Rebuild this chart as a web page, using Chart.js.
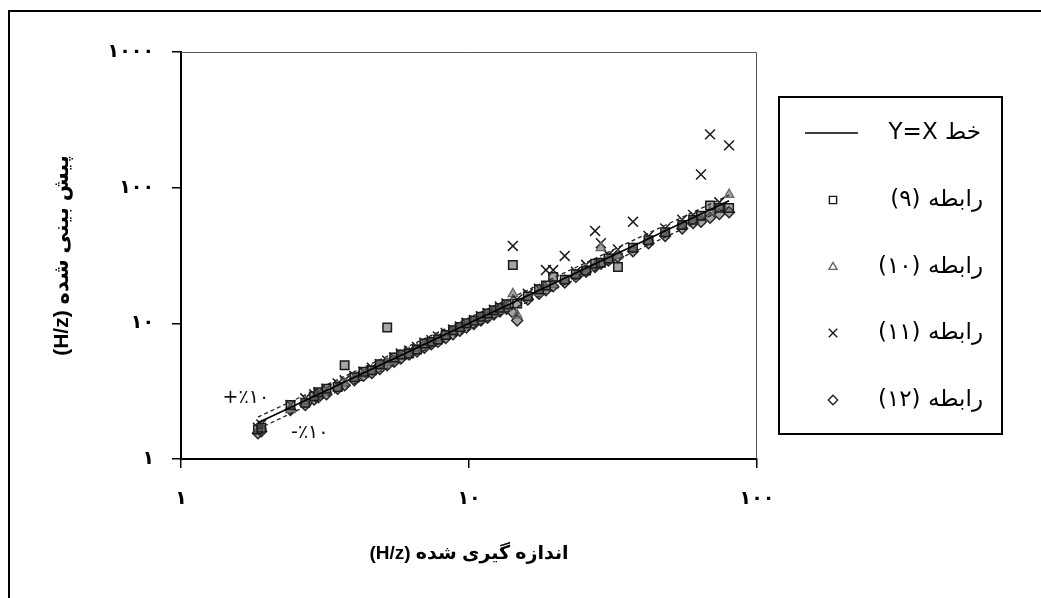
<!DOCTYPE html>
<html><head><meta charset="utf-8">
<script src="https://cdn.jsdelivr.net/npm/chart.js@4.4.0/dist/chart.umd.min.js"></script>
<style>
html,body{margin:0;padding:0;background:#fff;}
#wrap{position:relative;width:1041px;height:598px;}
canvas{direction:rtl;}
</style>
</head><body><div id="wrap"><canvas id="c" width="1041" height="598"></canvas></div>
<script>
// ---- data (measured vs predicted, H/z) ----
const measured = [1.85,1.9,2.4,2.7,2.9,3.0,3.2,3.5,3.7,4.0,4.3,4.6,4.9,5.2,5.5,5.8,6.2,6.6,7.0,7.4,7.8,8.3,8.8,9.3,9.8,10.4,11.0,11.6,12.2,12.8,13.5,14.2,14.7,16.0,17.5,18.5,19.6,21.5,23.5,25.5,27.4,28.7,30.5,32.9,37.1,42,48,55,60,63.9,68.7,74,80];
const rel9  = [1.65,1.7,2.5,2.6,2.9,3.1,3.3,3.4,4.9,4.0,4.4,4.5,5.0,9.3,5.6,5.9,6.0,6.4,7.1,7.3,7.6,8.2,8.9,9.4,10.0,10.5,11.2,11.8,12.5,13.0,13.8,26.9,14.0,15.8,17.8,19.0,22.0,21.0,23.0,24.5,27.5,28.0,30.0,26.0,36.0,41.0,47.0,53.0,58.0,62.0,74.0,71.0,70.7];
const rel10 = [1.6,1.75,2.3,2.65,2.8,2.95,3.1,3.45,3.6,3.9,4.2,4.5,4.8,5.1,5.3,5.7,6.1,6.5,6.8,7.2,7.7,8.1,8.6,9.1,9.6,10.2,10.8,11.3,12.0,12.5,13.2,16.5,11.5,15.5,17.0,18.2,19.2,20.8,22.8,25.0,26.5,36.0,29.5,31.5,35.5,40.0,46.0,52.0,57.0,60.0,66.0,70.0,89.0];
const rel11 = [1.7,1.8,2.5,2.8,3.0,3.1,3.3,3.6,3.8,4.1,4.4,4.7,5.0,5.3,5.6,6.0,6.3,6.7,7.2,7.5,8.0,8.5,9.0,9.5,10.1,10.6,11.3,11.9,12.6,13.3,14.0,37.2,15.0,16.5,18.0,24.7,24.7,31.4,24.0,27.0,48.0,39.0,32.0,35.0,56.0,44.0,50.0,58.0,63.0,125.0,247.0,78.0,205.0];
const rel12 = [1.55,1.6,2.3,2.5,2.75,2.85,3.0,3.3,3.5,3.8,4.1,4.3,4.6,4.9,5.2,5.5,5.9,6.2,6.6,7.0,7.3,7.8,8.3,8.8,9.3,9.9,10.5,11.0,11.6,12.2,12.8,12.0,10.5,15.0,16.5,17.5,18.8,20.0,22.0,24.0,26.0,27.5,29.0,31.0,34.0,39.0,44.0,50.0,55.0,56.0,60.0,64.0,66.0];
const lineX  = [1.85, 80];
const lineY  = [1.85, 80];
const upperY = [2.035, 88];
const lowerY = [1.665, 72];
const xTickValues = [1, 10, 100];
const xTickLabels = ['۱', '۱۰', '۱۰۰'];
const yTickValues = [1, 10, 100, 1000];
const yTickLabels = ['۱', '۱۰', '۱۰۰', '۱۰۰۰'];
const seriesLabels = ['خط Y=X', 'رابطه (۹)', 'رابطه (۱۰)', 'رابطه (۱۱)', 'رابطه (۱۲)'];
const xTitle = 'اندازه گیری شده (H/z)';
const yTitle = 'پیش بینی شده (H/z)';
const bandLabels = ['+٪۱۰', '-٪۱۰'];
const bandLabelX = [1.68, 2.8];
const bandLabelY = [2.83, 1.56];

const pts = (ys) => measured.map((x, i) => ({x: x, y: ys[i]}));
const linePts = (ys) => lineX.map((x, i) => ({x: x, y: ys[i]}));

const markerFill = 'rgba(90,90,90,0.55)';
const datasets = [
  {label: seriesLabels[0], data: linePts(lineY), showLine: true, borderColor: '#000', borderWidth: 1.6, pointRadius: 0, order: 0},
  {label: '+10', data: linePts(upperY), showLine: true, borderColor: '#222', borderWidth: 1.3, borderDash: [4, 3], pointRadius: 0, order: 0},
  {label: '-10', data: linePts(lowerY), showLine: true, borderColor: '#222', borderWidth: 1.3, borderDash: [4, 3], pointRadius: 0, order: 0},
  {label: seriesLabels[1], data: pts(rel9), pointStyle: 'rect', pointRadius: 6, borderColor: '#1a1a1a', backgroundColor: markerFill, borderWidth: 1.5, order: 1},
  {label: seriesLabels[2], data: pts(rel10), pointStyle: 'triangle', pointRadius: 5.5, borderColor: '#666', backgroundColor: markerFill, borderWidth: 1.3, order: 1},
  {label: seriesLabels[3], data: pts(rel11), pointStyle: 'crossRot', pointRadius: 7, borderColor: '#1a1a1a', borderWidth: 1.5, order: 1},
  {label: seriesLabels[4], data: pts(rel12), pointStyle: 'rectRot', pointRadius: 5.5, borderColor: '#222', backgroundColor: markerFill, borderWidth: 1.4, order: 1}
];

const tickFont = {family: "'DejaVu Sans'", size: 19, weight: 'bold'};
const xTitleFont = {family: "'Liberation Sans', 'DejaVu Sans'", size: 19, weight: 'bold'};
const yTitleFont = {family: "'Liberation Sans', 'DejaVu Sans'", size: 21, weight: 'bold'};

function drawMarker(ctx, style, r, x, y, color) {
  ctx.save();
  ctx.strokeStyle = color; ctx.lineWidth = 1.4; ctx.beginPath();
  if (style === 'rect') { const s = r * Math.SQRT1_2; ctx.rect(x - s, y - s, 2 * s, 2 * s); }
  else if (style === 'triangle') { ctx.moveTo(x, y - r); ctx.lineTo(x + r * 0.87, y + r * 0.5); ctx.lineTo(x - r * 0.87, y + r * 0.5); ctx.closePath(); }
  else if (style === 'crossRot') { const s = r * Math.SQRT1_2; ctx.moveTo(x - s, y - s); ctx.lineTo(x + s, y + s); ctx.moveTo(x - s, y + s); ctx.lineTo(x + s, y - s); }
  else if (style === 'rectRot') { ctx.moveTo(x, y - r); ctx.lineTo(x + r, y); ctx.lineTo(x, y + r); ctx.lineTo(x - r, y); ctx.closePath(); }
  ctx.stroke(); ctx.restore();
}

const decor = {
  id: 'decor',
  beforeDraw(chart) {
    const ctx = chart.ctx;
    ctx.save();
    ctx.fillStyle = '#fff'; ctx.fillRect(0, 0, chart.width, chart.height);
    ctx.strokeStyle = '#000'; ctx.lineWidth = 2;
    ctx.beginPath(); ctx.moveTo(9, 598); ctx.lineTo(9, 11); ctx.lineTo(1041, 11); ctx.stroke();
    ctx.restore();
  },
  afterDraw(chart) {
    const ctx = chart.ctx, a = chart.chartArea;
    const xs = chart.scales.x, ys = chart.scales.y;
    ctx.save();
    ctx.strokeStyle = '#555'; ctx.lineWidth = 1;
    ctx.beginPath(); ctx.moveTo(a.left, a.top + 0.5); ctx.lineTo(a.right - 0.5, a.top + 0.5); ctx.lineTo(a.right - 0.5, a.bottom); ctx.stroke();
    ctx.direction = 'ltr'; ctx.fillStyle = '#111';
    ctx.font = "19px 'DejaVu Sans'"; ctx.textAlign = 'center'; ctx.textBaseline = 'middle';
    for (let i = 0; i < bandLabels.length; i++) {
      ctx.fillText(bandLabels[i], xs.getPixelForValue(bandLabelX[i]), ys.getPixelForValue(bandLabelY[i]));
    }
    const bx = 779, by = 97, bw = 223, bh = 337;
    ctx.strokeStyle = '#000'; ctx.lineWidth = 2;
    ctx.strokeRect(bx, by, bw, bh);
    const rows = [133, 200, 267, 333, 400];
    ctx.direction = 'rtl'; ctx.textAlign = 'right'; ctx.textBaseline = 'middle';
    ctx.font = "23px 'DejaVu Sans'"; ctx.fillStyle = '#000';
    ctx.strokeStyle = '#000'; ctx.lineWidth = 1.6;
    ctx.beginPath(); ctx.moveTo(805, rows[0]); ctx.lineTo(858, rows[0]); ctx.stroke();
    ctx.fillText(seriesLabels[0], 981, rows[0]);
    const idx = [3, 4, 5, 6];
    idx.forEach((di, k) => {
      const ds = chart.data.datasets[di];
      drawMarker(ctx, ds.pointStyle, ds.pointRadius * 0.85, 833, rows[k + 1], ds.borderColor);
      ctx.fillText(ds.label, 983, rows[k + 1]);
    });
    ctx.restore();
  }
};

new Chart(document.getElementById('c'), {
  type: 'scatter',
  data: {datasets: datasets},
  plugins: [decor],
  options: {
    responsive: false,
    animation: false,
    devicePixelRatio: 1,
    layout: {padding: {left: 10, right: 284, top: 52, bottom: 19}},
    plugins: {legend: {display: false}, tooltip: {enabled: false}},
    scales: {
      x: {
        type: 'logarithmic', position: 'bottom', min: 1, max: 100,
        afterBuildTicks: (s) => { s.ticks = xTickValues.map(v => ({value: v})); },
        afterFit: (s) => { s.height = 120; },
        grid: {display: true, drawOnChartArea: false, drawTicks: true, tickLength: 9, color: '#000', lineWidth: 1.5},
        border: {display: true, color: '#000', width: 2},
        ticks: {font: tickFont, color: '#000', padding: 20, autoSkip: false, maxRotation: 0,
          callback: (v) => { const i = xTickValues.indexOf(v); return i >= 0 ? xTickLabels[i] : ''; }},
        title: {display: true, text: xTitle, font: xTitleFont, color: '#000', padding: {top: 0, bottom: 14}}
      },
      y: {
        type: 'logarithmic', position: 'left', min: 1, max: 1000,
        afterBuildTicks: (s) => { s.ticks = yTickValues.map(v => ({value: v})); },
        afterFit: (s) => { s.width = 171; },
        grid: {display: true, drawOnChartArea: false, drawTicks: true, tickLength: 9, color: '#000', lineWidth: 1.5},
        border: {display: true, color: '#000', width: 2},
        ticks: {font: tickFont, color: '#000', padding: 18, autoSkip: false,
          callback: (v) => { const i = yTickValues.indexOf(v); return i >= 0 ? yTickLabels[i] : ''; }},
        title: {display: true, text: yTitle, font: yTitleFont, color: '#000', padding: {top: 40, bottom: 0}}
      }
    }
  }
});
</script>
</body></html>
